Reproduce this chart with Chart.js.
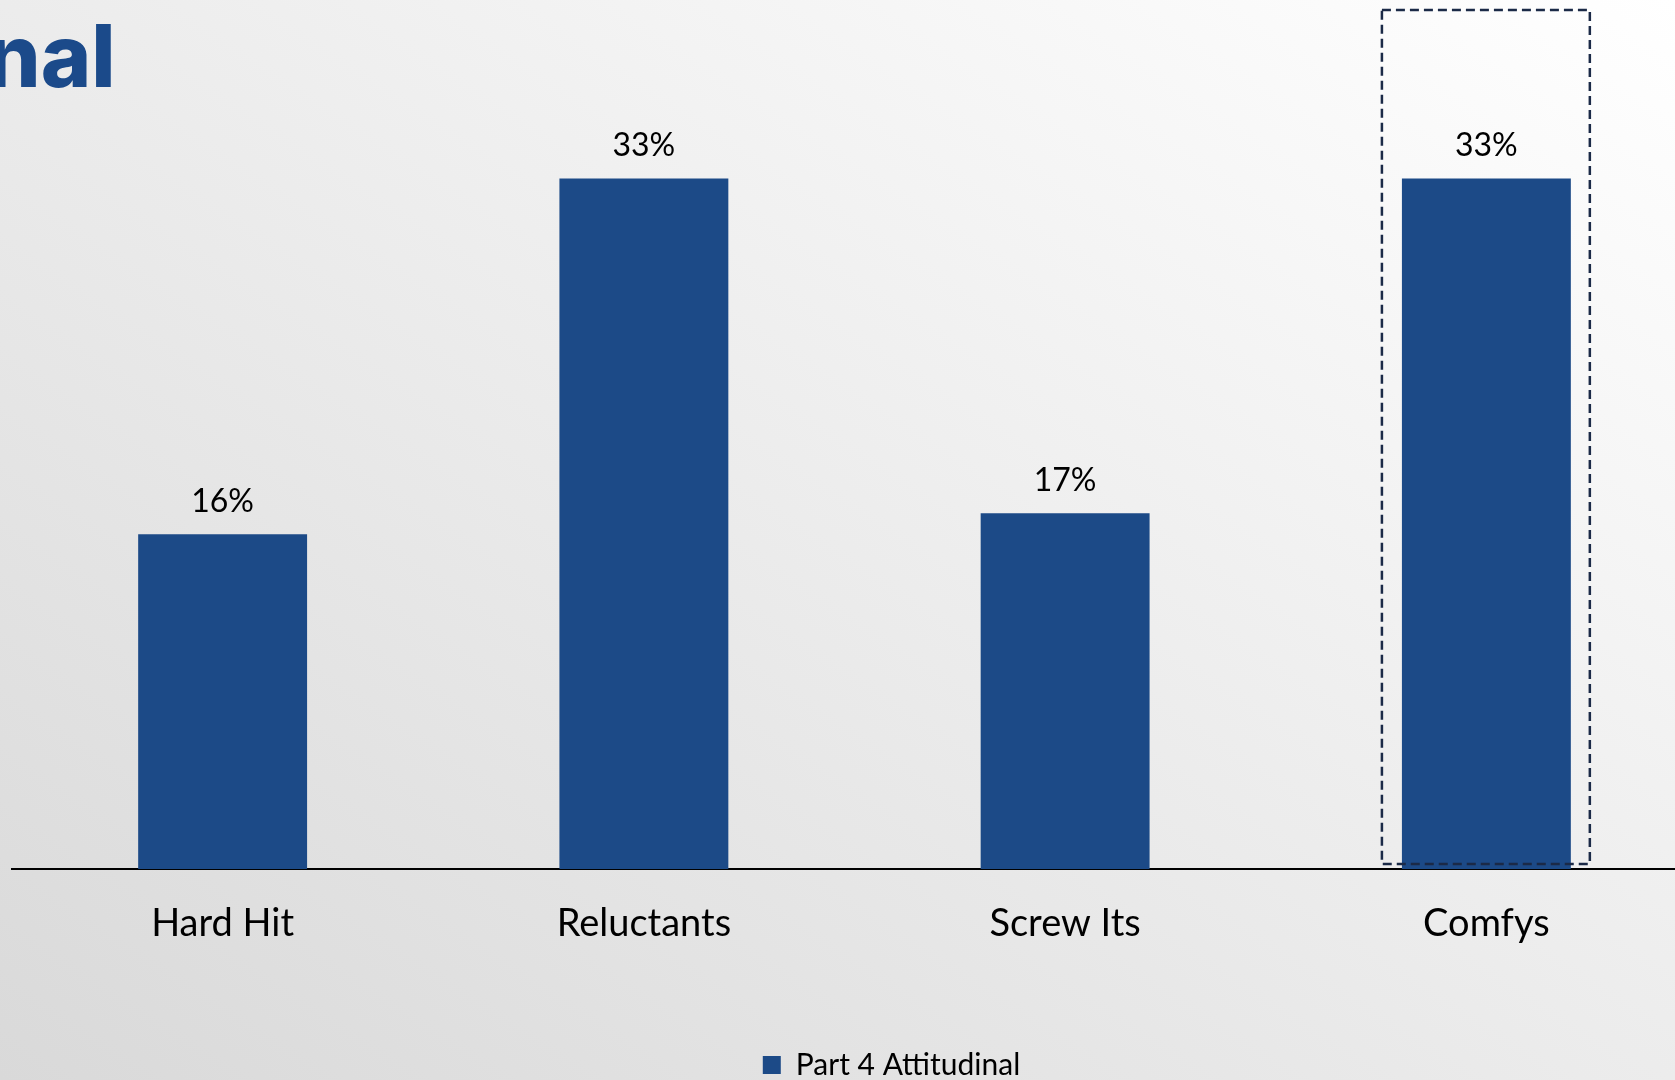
<!DOCTYPE html>
<html>
<head>
<meta charset="utf-8">
<script src="https://cdn.jsdelivr.net/npm/chart.js@4.4.1/dist/chart.umd.min.js"></script>
<style>
  html, body {
    margin: 0;
    padding: 0;
    width: 1675px;
    height: 1080px;
    overflow: hidden;
  }
  body {
    position: relative;
    background: linear-gradient(to top right, #d9d9d9, #ffffff);
  }
  #title {
    position: absolute;
    left: -14px;
    top: 13px;
    font-family: Inter, 'Open Sans', sans-serif;
    font-weight: 800;
    font-size: 86px;
    line-height: 1;
    color: #1b4a8a;
    white-space: nowrap;
  }
  #wrap {
    position: absolute;
    left: 0;
    top: 0;
  }
</style>
</head>
<body>
<div id="title">nal</div>
<div id="wrap"><canvas id="barChart" width="1697" height="1100"></canvas></div>
<script>
// donnees
var categories = ['Hard Hit', 'Reluctants', 'Screw Its', 'Comfys'];
var seriesName = 'Part 4 Attitudinal';
var seriesValues = [16, 33, 17, 33];
var highlightIndex = 3; // barre entouree en pointilles

var barColour = '#1c4a87';
var labelFont = 'Lato';

// etiquettes au dessus des barres
var valueLabels = {
    id: 'valueLabels',
    afterDatasetsDraw: function (chart) {
        var ctx = chart.ctx;
        var meta = chart.getDatasetMeta(0);
        ctx.save();
        ctx.font = '32px ' + labelFont;
        ctx.fillStyle = '#000000';
        ctx.textAlign = 'center';
        ctx.textBaseline = 'alphabetic';
        meta.data.forEach(function (bar, i) {
            ctx.fillText(seriesValues[i] + '%', bar.x, bar.y - 22);
        });
        ctx.restore();
    }
};

// cadre pointille autour de la barre mise en avant
var highlightBox = {
    id: 'highlightBox',
    afterDatasetsDraw: function (chart) {
        var ctx = chart.ctx;
        var bar = chart.getDatasetMeta(0).data[highlightIndex];
        var area = chart.chartArea;
        var left = bar.x - bar.width / 2 - 20;
        var right = bar.x + bar.width / 2 + 19;
        var top = area.top - 22;
        var bottom = area.bottom - 5;
        ctx.save();
        ctx.strokeStyle = '#1b2a47';
        ctx.lineWidth = 2.5;
        ctx.setLineDash([9, 5]);
        ctx.strokeRect(left, top, right - left, bottom - top);
        ctx.restore();
    }
};

// la legende est un peu decalee vers la droite dans l'original
var legendShift = {
    id: 'legendShift',
    afterLayout: function (chart) {
        if (chart.legend) {
            chart.legend.left += 37;
            chart.legend.right += 37;
        }
    }
};

var ctx = document.getElementById('barChart');
var chart = new Chart(ctx, {
    type: 'bar',
    data: {
        labels: categories,
        datasets: [{
            label: seriesName,
            data: seriesValues,
            backgroundColor: barColour,
            borderWidth: 0,
            categoryPercentage: 1,
            barPercentage: 0.401
        }]
    },
    options: {
        responsive: false,
        animation: false,
        devicePixelRatio: 1,
        layout: {
            padding: { left: 12, right: 0, top: 32, bottom: 10 }
        },
        plugins: {
            legend: {
                display: true,
                position: 'bottom',
                labels: {
                    boxWidth: 18,
                    boxHeight: 18,
                    padding: 70,
                    color: '#000000',
                    font: { family: labelFont, size: 30 }
                }
            },
            tooltip: { enabled: false }
        },
        scales: {
            x: {
                grid: { display: false },
                border: { display: true, color: '#000000', width: 2 },
                ticks: {
                    color: '#000000',
                    padding: 24,
                    font: { family: labelFont, size: 38 }
                },
                afterFit: function (scale) {
                    scale.height = 111;
                }
            },
            y: {
                display: false,
                min: 0,
                max: 40
            }
        }
    },
    plugins: [valueLabels, highlightBox, legendShift]
});
</script>
</body>
</html>
